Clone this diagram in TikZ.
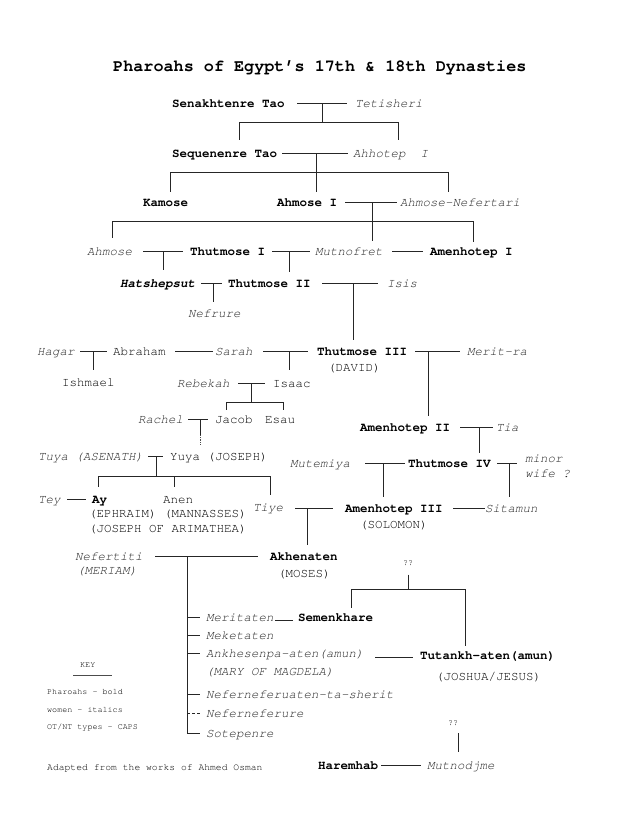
\documentclass[tikz,border=0pt]{standalone}
\usepackage{fontspec}
\setmainfont{TeX Gyre Cursor}
\usetikzlibrary{calc}
\begin{document}
\begin{tikzpicture}[x=1pt,y=-1pt,
  base/.style={anchor=west, inner sep=0pt, text height=8pt, text depth=0pt, text=black, font=\fontsize{12.5}{14}\selectfont},
  ph/.style={base, text=black, font=\fontsize{12.5}{14}\selectfont\bfseries},
  wo/.style={base, text=black!85, font=\fontsize{12.5}{14}\selectfont\itshape},
  phwo/.style={base, text=black, font=\fontsize{12.5}{14}\selectfont\bfseries\itshape},
  small/.style={anchor=west, inner sep=0pt, text height=5pt, text depth=0pt, text=black, font=\fontsize{8.4}{10}\selectfont},
  ttl/.style={anchor=west, inner sep=0pt, text height=11pt, text depth=0pt, font=\fontsize{16.8}{19}\selectfont\bfseries},
  ln/.style={draw=black!85, line width=1pt},
  drop/.style={ln, shorten >=7pt}
]
\fill[white] (0,0) rectangle (637,825);
\useasboundingbox (0,0) rectangle (637,825);

% ---------- nodes ----------
\node[ttl] (title) at (113,66) {Pharoahs of Egypt’s 17th \& 18th Dynasties};

\node[ph] (sen) at (172,103) {Senakhtenre Tao};
\node[wo] (tet) at (355,103) {Tetisheri};
\node[ph] (seq) at (172,153) {Sequenenre Tao};
\node[wo] (ahh) at (353,153) {Ahhotep~~I};
\node[ph] (kam) at (143,202) {Kamose};
\node[ph] (ahm1) at (277,202) {Ahmose I};
\node[wo] (ahnef) at (400,202) {Ahmose-Nefertari};
\node[wo] (ahmose) at (87,251) {Ahmose};
\node[ph] (thut1) at (190,251) {Thutmose I};
\node[wo] (mutn) at (315,251) {Mutnofret};
\node[ph] (amen1) at (430,251) {Amenhotep I};
\node[phwo] (hat) at (120,283) {Hatshepsut};
\node[ph] (thut2) at (228,283) {Thutmose II};
\node[wo] (isis) at (387,283) {Isis};
\node[wo] (nefrure) at (188,313) {Nefrure};
\node[wo] (hagar) at (37,351) {Hagar};
\node[base] (abraham) at (113,351) {Abraham};
\node[wo] (sarah) at (215,351) {Sarah};
\node[ph] (thut3) at (317,351) {Thutmose III};
\node[base] (david) at (328,367) {(DAVID)};
\node[wo] (meritra) at (467,351) {Merit-ra};
\node[base] (ishmael) at (62,382) {Ishmael};
\node[wo] (rebekah) at (177,383) {Rebekah};
\node[base] (isaac) at (273,383) {Isaac};
\node[wo] (rachel) at (138,419) {Rachel};
\node[base] (jacob) at (215,419) {Jacob};
\node[base] (esau) at (265,419) {Esau};
\node[ph] (amen2) at (360,427) {Amenhotep II};
\node[wo] (tia) at (496,427) {Tia};
\node[wo] (tuya) at (38,456) {Tuya (ASENATH)};
\node[base] (yuya) at (170,456) {Yuya (JOSEPH)};
\node[wo] (mutemiya) at (290,463) {Mutemiya};
\node[ph] (thut4) at (408,463) {Thutmose IV};
\node[wo] (minor) at (525,458) {minor};
\node[wo] (wife) at (525,473) {wife ?};
\node[wo] (tey) at (38,499) {Tey};
\node[ph] (ay) at (92,499) {Ay};
\node[base] (anen) at (163,499) {Anen};
\node[base] (ephraim) at (89,513) {(EPHRAIM) (MANNASSES)};
\node[base] (arim) at (89,528) {(JOSEPH OF ARIMATHEA)};
\node[wo] (tiye) at (253,507) {Tiye};
\node[ph] (amen3) at (345,508) {Amenhotep III};
\node[base] (solomon) at (360,524) {(SOLOMON)};
\node[wo] (sitamun) at (485,508) {Sitamun};
\node[wo] (nefertiti) at (75,556) {Nefertiti};
\node[wo] (meriam) at (77,570) {(MERIAM)};
\node[ph] (akhen) at (270,556) {Akhenaten};
\node[base] (moses) at (278,573) {(MOSES)};
\node[small] (qq1) at (403,563) {??};
\node[wo] (meritaten) at (206,617) {Meritaten};
\node[ph] (semen) at (298,617) {Semenkhare};
\node[wo] (meket) at (206,635) {Meketaten};
\node[wo] (ankh) at (206,653) {Ankhesenpa-aten(amun)};
\node[wo] (mary) at (206,671) {(MARY OF MAGDELA)};
\node[ph] (tut) at (420,655) {Tutankh-aten(amun)};
\node[base] (joshua) at (436,676) {(JOSHUA/JESUS)};
\node[wo] (nefta) at (206,694) {Neferneferuaten-ta-sherit};
\node[wo] (nefre) at (206,713) {Neferneferure};
\node[wo] (sotep) at (206,733) {Sotepenre};
\node[small] (qq2) at (448,723) {??};
\node[ph] (harem) at (318,765) {Haremhab};
\node[wo] (mutnod) at (427,765) {Mutnodjme};

\node[small] (key) at (80,665) {KEY};
\node[small] (k1) at (47,692) {Pharoahs - bold};
\node[small] (k2) at (47,710) {women - italics};
\node[small] (k3) at (47,727) {OT/NT types - CAPS};
\node[anchor=west, inner sep=0pt, text height=6pt, text depth=0pt, text=black, font=\fontsize{9.7}{11}\selectfont] (adapted) at (47,767) {Adapted from the works of Ahmed Osman};

% ---------- coordinates ----------
\coordinate (c1) at (322,103);
\coordinate (b1l) at (239,122); \coordinate (b1r) at (398,122);
\coordinate (c2) at (316,153);
\coordinate (b2l) at (170,172); \coordinate (b2r) at (448,172);
\coordinate (c3) at (372,202);
\coordinate (b3l) at (112,221); \coordinate (b3r) at (473,221);
\coordinate (c4) at (163,251);
\coordinate (c5) at (289,251);
\coordinate (c6) at (213,283);
\coordinate (c7) at (353,283);
\coordinate (c8) at (93,351);
\coordinate (c9) at (289,351);
\coordinate (c10) at (428,351);
\coordinate (c11) at (251,383);
\coordinate (b11l) at (226,402); \coordinate (b11r) at (283,402);
\coordinate (c12) at (200,419); \coordinate (c12b) at (200,435);
\coordinate (c13) at (479,427);
\coordinate (c14) at (156,456);
\coordinate (b14l) at (98,476); \coordinate (b14m) at (174,476); \coordinate (b14r) at (270,476);
\coordinate (c15) at (383,463);
\coordinate (c16) at (509,463);
\coordinate (c17) at (307,508);
\coordinate (c18) at (187,556);
\coordinate (b19l) at (351,589); \coordinate (b19r) at (465,589);
\coordinate (c20) at (458,733);
\coordinate (ku1) at (73,675); \coordinate (ku2) at (112,675);

% ---------- connectors ----------
% Senakhtenre + Tetisheri
\draw[ln, shorten <=12.5pt, shorten >=8pt] (sen.east) -- (tet.west);
\draw[ln] (c1) -- (c1 |- b1l);
\draw[ln] (b1l) -- (b1r);
\draw[ln, shorten >=9pt] (b1l) -- (b1l |- seq.north);
\draw[ln, shorten >=9pt] (b1r) -- (b1r |- ahh.north);
% Sequenenre + Ahhotep
\draw[ln, shorten <=5pt, shorten >=5pt] (seq.east) -- (ahh.west);
\draw[ln, shorten >=6pt] (c2) -- (c2 |- ahm1.north);
\draw[ln] (b2l) -- (b2r);
\draw[ln, shorten >=6pt] (b2l) -- (b2l |- kam.north);
\draw[ln, shorten >=6pt] (b2r) -- (b2r |- ahnef.north);
% Ahmose I + Ahmose-Nefertari
\draw[ln, shorten <=8pt, shorten >=3pt] (ahm1.east) -- (ahnef.west);
\draw[ln, shorten >=6pt] (c3) -- (c3 |- mutn.north);
\draw[ln] (b3l) -- (b3r);
\draw[ln, shorten >=9pt] (b3l) -- (b3l |- ahmose.north);
\draw[ln, shorten >=5pt] (b3r) -- (b3r |- amen1.north);
% generation Thutmose I
\draw[ln, shorten <=11pt, shorten >=7pt] (ahmose.east) -- (thut1.west);
\draw[ln, shorten <=7pt, shorten >=5pt] (thut1.east) -- (mutn.west);
\draw[ln, shorten <=9.5pt, shorten >=7pt] (mutn.east) -- (amen1.west);
\draw[ln, shorten >=9pt] (c4) -- (c4 |- hat.north);
\draw[drop] (c5) -- (c5 |- thut2.north);
% Thutmose II
\draw[ln, shorten <=6pt, shorten >=6pt] (hat.east) -- (thut2.west);
\draw[ln, shorten <=11.5pt, shorten >=9pt] (thut2.east) -- (isis.west);
\draw[drop] (c6) -- (c6 |- nefrure.north);
\draw[drop] (c7) -- (c7 |- thut3.north);
% Abraham line
\draw[ln, shorten <=5.5pt, shorten >=6pt] (hagar.east) -- (abraham.west);
\draw[ln, shorten <=9.5pt, shorten >=2pt] (abraham.east) -- (sarah.west);
\draw[ln, shorten <=10.5pt, shorten >=9pt] (sarah.east) -- (thut3.west);
\draw[ln, shorten <=8pt, shorten >=7pt] (thut3.east) -- (meritra.west);
\draw[ln, shorten >=8pt] (c8) -- (c8 |- ishmael.north);
\draw[ln, shorten >=9pt] (c9) -- (c9 |- isaac.north);
\draw[drop] (c10) -- (c10 |- amen2.north);
% Isaac + Rebekah
\draw[ln, shorten <=8.5pt, shorten >=8pt] (rebekah.east) -- (isaac.west);
\draw[ln] (c11) -- (c11 |- b11l);
\draw[ln] (b11l) -- (b11r);
\draw[ln, shorten >=5pt] (b11l) -- (b11l |- jacob.north);
\draw[ln, shorten >=5pt] (b11r) -- (b11r |- esau.north);
% Jacob + Rachel
\draw[ln, shorten <=5pt, shorten >=7pt] (rachel.east) -- (jacob.west);
\draw[ln] (c12) -- (c12b);
\draw[draw=black!70, line width=0.8pt, densely dotted, shorten >=7pt] (c12b) -- (c12b |- yuya.north);
% Amenhotep II + Tia
\draw[ln, shorten <=10pt, shorten >=3pt] (amen2.east) -- (tia.west);
\draw[ln, shorten >=6pt] (c13) -- (c13 |- thut4.north);
% Yuya + Tuya
\draw[ln, shorten <=5pt, shorten >=7pt] (tuya.east) -- (yuya.west);
\draw[ln] (c14) -- (c14 |- b14l);
\draw[ln] (b14l) -- (b14r);
\draw[ln, shorten >=8pt] (b14l) -- (b14l |- ay.north);
\draw[ln, shorten >=8pt] (b14m) -- (b14m |- anen.north);
\draw[ln, shorten >=8pt] (b14r) -- (b14r |- tiye.north);
% Thutmose IV
\draw[ln, shorten <=15pt, shorten >=3pt] (mutemiya.east) -- (thut4.west);
\draw[ln, shorten <=6.5pt, shorten >=8pt] (thut4.east) -- (thut4.east -| minor.west);
\draw[drop] (c15) -- (c15 |- amen3.north);
\draw[drop] (c16) -- (c16 |- sitamun.north);
% Ay + Tey
\draw[ln, shorten <=6.5pt, shorten >=6pt] (tey.east) -- (ay.west);
% Amenhotep III
\draw[ln, shorten <=12pt, shorten >=12pt] (tiye.east |- amen3.west) -- (amen3.west);
\draw[ln, shorten <=10.5pt] (amen3.east) -- (sitamun.west);
\draw[drop] (c17) -- (c17 |- akhen.north);
% Akhenaten + Nefertiti
\draw[ln, shorten <=12.5pt, shorten >=12pt] (nefertiti.east) -- (akhen.west);
\draw[ln, shorten >=6pt] (c18) |- (sotep.west);
\draw[ln, shorten >=6pt] (c18 |- meritaten.west) -- (meritaten.west);
\draw[ln, shorten >=6pt] (c18 |- meket.west) -- (meket.west);
\draw[ln, shorten >=6pt] (c18 |- ankh.west) -- (ankh.west);
\draw[ln, shorten >=6pt] (c18 |- nefta.west) -- (nefta.west);
\draw[ln, dashed, dash pattern=on 3pt off 2pt, shorten >=6pt] (c18 |- nefre.west) -- (nefre.west);
% Semenkhare, Tutankhaten
\draw[ln, shorten <=9pt] (qq1.south) -- (qq1.south |- b19l);
\draw[ln] (b19l) -- (b19r);
\draw[ln, shorten >=5pt] (b19l) -- (b19l |- semen.north);
\draw[ln, shorten >=5pt] (b19r) -- (b19r |- tut.north);
\draw[ln, shorten <=1pt, shorten >=5pt] ([yshift=-3pt]meritaten.east) -- ([yshift=-3pt]meritaten.east -| semen.west);
\draw[ln, shorten <=11.5pt, shorten >=7pt] ([yshift=-4pt]ankh.east) -- ([yshift=-4pt]ankh.east -| tut.west);
% Haremhab
\draw[ln, shorten >=9pt] (c20) -- (c20 |- mutnod.north);
\draw[ln, shorten <=3pt, shorten >=6pt] (harem.east) -- (mutnod.west);
% key
\draw[draw=black!70, line width=0.8pt] (ku1) -- (ku2);
\end{tikzpicture}
\end{document}
